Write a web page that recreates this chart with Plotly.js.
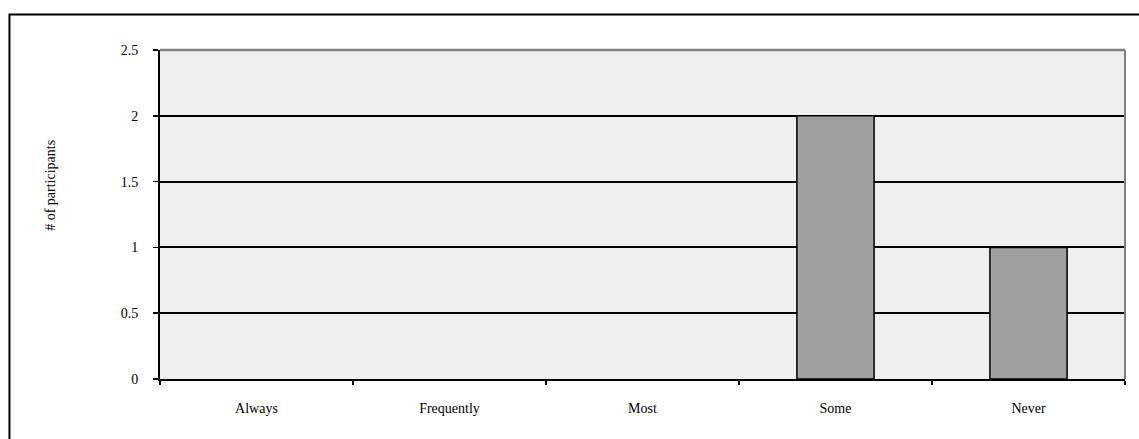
<!DOCTYPE html>
<html><head><meta charset="utf-8">
<script src="https://cdn.plot.ly/plotly-3.0.1.min.js"></script>
<style>html,body{margin:0;padding:0;background:#fff}#c{width:1139px;height:439px}</style>
</head><body><div id="c"></div>
<script>
const categories = ["Always", "Frequently", "Most", "Some", "Never"];
const participants = [0, 0, 0, 2, 1];
const yTicks = [0, 0.5, 1, 1.5, 2, 2.5];
const yTickLabels = ["0", "0.5", "1", "1.5", "2", "2.5"];
const yTitle = "# of participants";

const font = {family: "Liberation Serif, Times New Roman, serif", size: 14, color: "#000"};
Plotly.newPlot("c", [{
  type: "bar", x: categories, y: participants,
  marker: {color: "#a0a0a0", line: {color: "#000", width: participants.map(v => v ? 1.5 : 0)}},
  hoverinfo: "none"
}], {
  width: 1139, height: 439,
  margin: {l: 160, r: 14, t: 50, b: 60},
  paper_bgcolor: "#fff", plot_bgcolor: "#efefef",
  bargap: 0.6, showlegend: false, font: font,
  xaxis: {type: "category", showline: true, linecolor: "#000", linewidth: 2,
    ticks: "outside", tickson: "boundaries", ticklen: 4, tickcolor: "#000", tickwidth: 1.5,
    ticklabelstandoff: 15,
    showgrid: false, tickfont: font, zeroline: false, fixedrange: true},
  yaxis: {range: [0, 2.5], tickvals: yTicks, ticktext: yTickLabels, showline: true, linecolor: "#000", linewidth: 2,
    ticks: "outside", ticklen: 5, tickcolor: "#000", tickwidth: 1.5, ticklabelstandoff: 12,
    showgrid: true, gridcolor: "#000", gridwidth: 2, zeroline: false, tickfont: font, fixedrange: true},
  annotations: [{text: yTitle, xref: "paper", yref: "paper", x: -0.113, y: 0.59, textangle: -90,
    showarrow: false, font: font, xanchor: "center", yanchor: "middle"}],
  shapes: [
    {type: "line", xref: "paper", yref: "paper", x0: 0, x1: 1, y0: 1, y1: 1, line: {color: "#808080", width: 2.5}},
    {type: "line", xref: "paper", yref: "paper", x0: 1, x1: 1, y0: 0, y1: 1, line: {color: "#808080", width: 2}},
    {type: "rect", xref: "paper", yref: "paper", x0: -0.156, x1: 1.03, y0: -0.21, y1: 1.1079, line: {color: "#000", width: 2}}
  ]
}, {staticPlot: true});
</script></body></html>
